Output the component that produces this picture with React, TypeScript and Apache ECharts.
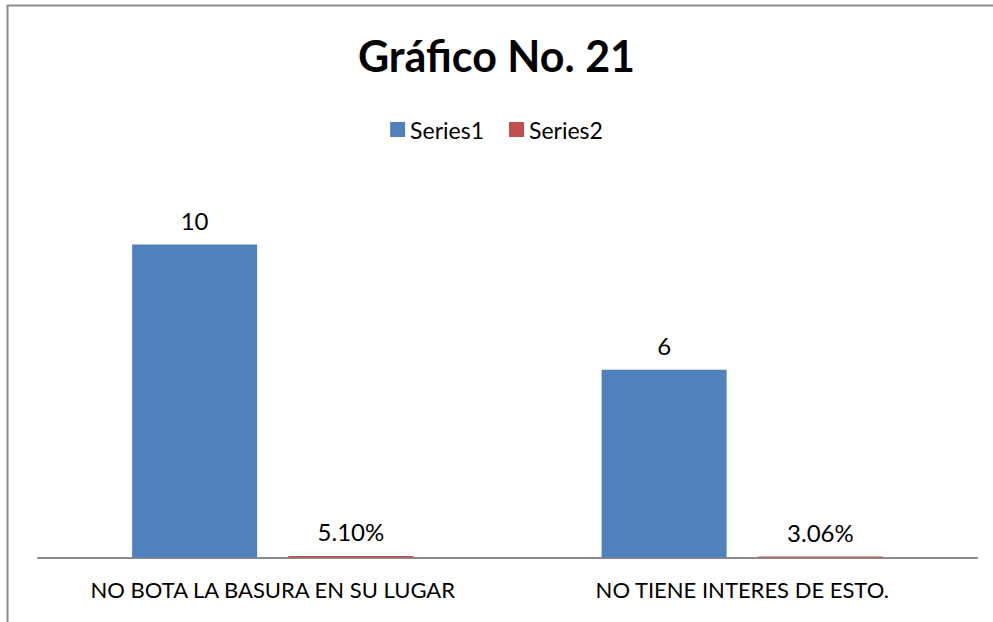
import React, { useEffect, useRef } from "react";
import * as echarts from "echarts";

const categories = ["NO BOTA LA BASURA EN SU LUGAR", "NO TIENE INTERES DE ESTO."];
const series1 = [10, 6];
const series2 = [0.051, 0.0306];
const seriesNames = ["Series1", "Series2"];
const titleText = "Gráfico No. 21";

const FONT = "Lato, 'Open Sans', sans-serif";

export default function App() {
  const ref = useRef<HTMLDivElement>(null);
  useEffect(() => {
    if (!ref.current) return;
    const chart = echarts.init(ref.current, null, { renderer: "svg" });
    chart.setOption({
      animation: false,
      backgroundColor: "#ffffff",
      textStyle: { fontFamily: FONT },
      title: {
        text: titleText,
        left: "center",
        top: 29,
        textStyle: { fontSize: 43, fontWeight: "bold", color: "#000", fontFamily: FONT },
      },
      legend: {
        data: seriesNames,
        top: 113,
        left: "center",
        itemWidth: 15,
        itemHeight: 15,
        itemGap: 25,
        icon: "rect",
        textStyle: { fontSize: 23, color: "#000", fontFamily: FONT },
      },
      graphic: [
        { type: "line", shape: { x1: 7, y1: 5.5, x2: 993, y2: 5.5 }, style: { stroke: "#8c8c8c", lineWidth: 2 } },
        { type: "line", shape: { x1: 7.5, y1: 5, x2: 7.5, y2: 622 }, style: { stroke: "#8c8c8c", lineWidth: 2 } },
      ],
      grid: { left: 38, right: 16, top: 182, bottom: 64.5, containLabel: false },
      xAxis: {
        type: "category",
        data: categories,
        axisLine: { show: true, lineStyle: { color: "#8a8a8a", width: 2 } },
        axisTick: { show: false },
        axisLabel: { interval: 0, fontSize: 22, color: "#000", fontFamily: FONT, margin: 21 },
      },
      yAxis: {
        type: "value",
        min: 0,
        max: 12,
        show: false,
        splitLine: { show: false },
      },
      series: [
        {
          name: seriesNames[0],
          type: "bar",
          data: series1,
          barWidth: 125,
          barGap: "25%",
          itemStyle: { color: "#4F81BD" },
          label: { show: true, position: "top", distance: 12, fontSize: 24, color: "#000", fontFamily: FONT },
        },
        {
          name: seriesNames[1],
          type: "bar",
          data: series2,
          barWidth: 125,
          itemStyle: { color: "#C0504D" },
          label: {
            show: true,
            position: "top",
            distance: 12,
            fontSize: 24,
            color: "#000",
            fontFamily: FONT,
            formatter: (p: any) => (p.value * 100).toFixed(2) + "%",
          },
        },
      ],
    });
    return () => chart.dispose();
  }, []);
  return <div ref={ref} style={{ position: "absolute", left: 0, top: 0, width: 993, height: 622 }} />;
}
